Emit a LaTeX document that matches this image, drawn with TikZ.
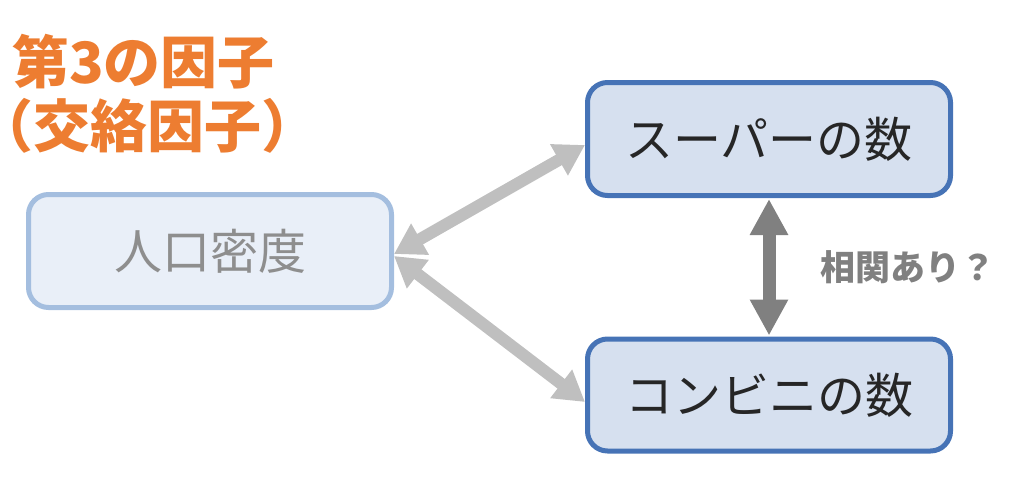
\documentclass[tikz,border=0pt]{standalone}
\usepackage{fontspec}
\newfontfamily\cjk{Noto Sans CJK JP}
\usetikzlibrary{arrows.meta}
\definecolor{orangeT}{HTML}{ED7D31}
\definecolor{lightfill}{HTML}{E9EFF8}
\definecolor{lightline}{HTML}{A4BEDF}
\definecolor{darkfill}{HTML}{D6E0EF}
\definecolor{darkline}{HTML}{4673B6}
\definecolor{lightgrayA}{HTML}{BFBFBF}
\definecolor{darkgrayA}{HTML}{808080}
\definecolor{boxtext}{HTML}{262626}
\definecolor{fadetext}{HTML}{8E8E8E}
\tikzset{
  box/.style={rectangle, rounded corners=20pt, line width=5pt, minimum width=363pt, minimum height=113pt, inner sep=0pt,
    font=\cjk\fontsize{48}{52}\selectfont},
  boxdark/.style={box, draw=darkline, fill=darkfill, text=boxtext},
  boxlight/.style={box, draw=lightline, fill=lightfill, text=fadetext},
  garrow/.style={draw=lightgrayA, line width=12pt, {Triangle[length=30pt,width=34pt]}-{Triangle[length=30pt,width=34pt]}},
  darrow/.style={draw=darkgrayA, line width=13pt, {Triangle[length=36pt,width=36pt]}-{Triangle[length=36pt,width=36pt]}},
  titletext/.style={anchor=west, inner sep=0pt, text=orangeT, font=\cjk\bfseries\fontsize{57}{60}\selectfont},
}
\begin{document}
\begin{tikzpicture}[x=1pt,y=-1pt]
\useasboundingbox (0,0) rectangle (1024,495);
\node[boxlight] (jinko) at (210,251) {人口密度};
\node[boxdark] (super) at (769,139) {スーパーの数};
\node[boxdark, minimum height=112pt] (konbini) at (769,395) {コンビニの数};
\draw[garrow] ([yshift=-3pt]jinko.east) -- ([yshift=-6pt]super.west);
\draw[garrow] ([yshift=-5pt]jinko.east) -- ([yshift=-7pt]konbini.west);
\draw[darrow] ([yshift=-1pt]super.south) -- ([yshift=1pt]konbini.north);
\node[anchor=west, inner sep=0pt, text=darkgrayA, font=\cjk\bfseries\fontsize{35}{38}\selectfont] (corr) at (820,267) {相関あり？};
\node[titletext] (t1) at (12,62) {第3の因子};
\node[titletext] (t2) at (0,126) {\kern-24pt（交絡因子）};
\end{tikzpicture}
\end{document}
